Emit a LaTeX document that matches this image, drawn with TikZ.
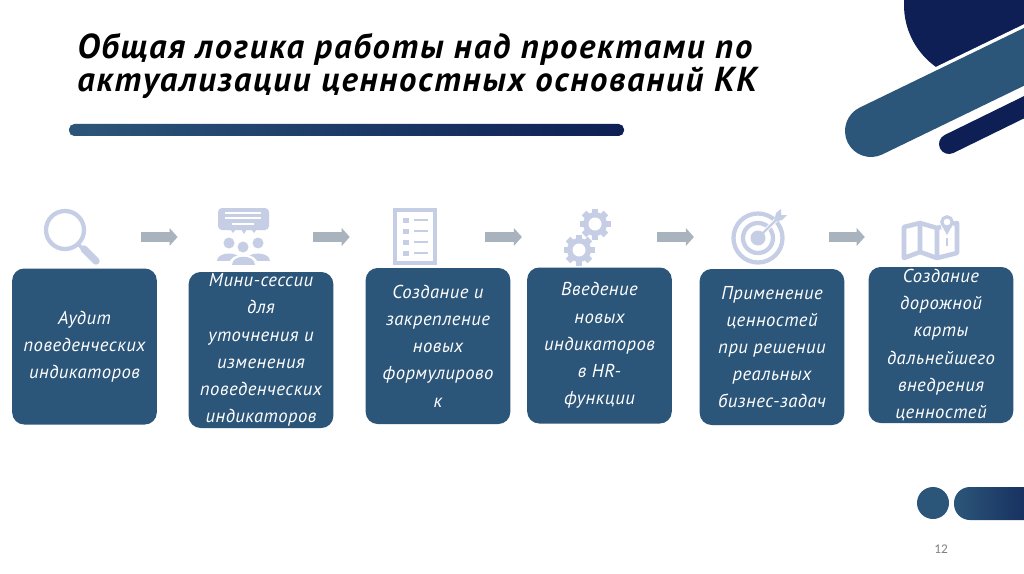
\documentclass[tikz,border=0pt]{standalone}
\usepackage{fontspec}
\setmainfont[LetterSpace=2.5]{PT Sans}
\newfontfamily\titlefont[LetterSpace=5.2]{PT Sans}
\newfontfamily\numfont{Carlito}
\usetikzlibrary{arrows.meta}

\definecolor{boxblue}{HTML}{2C5679}
\definecolor{navy}{HTML}{0D1F54}
\definecolor{iconblue}{HTML}{C6CEE6}
\definecolor{arrowgray}{HTML}{A9B3BD}

\tikzset{
  stepbox/.style={draw=none,fill=boxblue,rounded corners=9pt,inner sep=0pt,
    minimum width=108.5pt,minimum height=117pt,text=white,align=center,
    font=\itshape\fontsize{14}{20.4}\selectfont},
  iconspot/.style={inner sep=0pt,minimum height=10pt},
  flow/.style 2 args={arrowgray,line width=7.5pt,shorten <=#1*0.75pt,shorten >=#2*0.75pt,
    -{Triangle[length=6pt,width=13pt]}},
}

\newcommand{\gearicon}[2]{
  \foreach \a in {0,45,90,135}
    \fill[iconblue,shift={(#1,#2)},rotate=\a] (-3.2,-15.5) rectangle (3.2,15.5);
  \fill[iconblue] (#1,#2) circle (12);
  \fill[white] (#1,#2) circle (6.5);
}

\begin{document}
\begin{tikzpicture}[x=0.75pt,y=-0.75pt]

\path[use as bounding box,clip] (0,0) rectangle (1024,574);
\fill[white] (0,0) rectangle (1024,574);

% corner shapes
\fill[navy] (980,5) circle (76);
\draw[white,line width=44pt] (871,131) -- (1100,20);
\draw[boxblue,line width=39pt,line cap=round] (871,131) -- (1100,20);
\draw[navy,line width=15pt,line cap=round] (949,144) -- (1100,70);

% title
\node[anchor=north west,inner sep=0pt,align=left,
  font=\titlefont\bfseries\itshape\fontsize{26}{24.8}\selectfont] (title) at (77,33)
  {Общая логика работы над проектами по\\актуализации ценностных оснований КК};
\shade[left color=boxblue,right color=navy,rounded corners=4pt] (69,124) rectangle (624,136);

% boxes
\node[stepbox] (audit) at (84.5,346.5) {Аудит\\поведенческих\\индикаторов};
\node[stepbox] (sessions) at (261,350) {Мини-сессии\\для\\уточнения и\\изменения\\поведенческих\\индикаторов};
\node[stepbox] (wording) at (438,346) {Создание и\\закрепление\\новых\\формулирово\\к};
\node[stepbox] (hrfunc) at (599.5,345.5) {Введение\\новых\\индикаторов\\в HR-\\функции};
\node[stepbox] (practice) at (772,347) {Применение\\ценностей\\при решении\\реальных\\бизнес-задач};
\node[stepbox] (roadmap) at (941,345) {Создание\\дорожной\\карты\\дальнейшего\\внедрения\\ценностей};

% icon places
\node[iconspot,minimum width=43pt] (lens) at (71.5,237) {};
\node[iconspot,minimum width=40pt] (people) at (243.5,237) {};
\node[iconspot,minimum width=33pt] (sheet) at (415,237) {};
\node[iconspot,minimum width=35pt] (gears) at (586.5,237) {};
\node[iconspot,minimum width=41pt] (target) at (758.5,237) {};
\node[iconspot,minimum width=42pt] (map) at (930,237) {};

\draw[flow={41}{39}] (lens.east) -- (people.west);
\draw[flow={43}{43}] (people.east) -- (sheet.west);
\draw[flow={48}{41}] (sheet.east) -- (gears.west);
\draw[flow={47}{37}] (gears.east) -- (target.west);
\draw[flow={43}{37}] (target.east) -- (map.west);

% lens
\draw[iconblue,line width=3.2pt] (65,230) circle (19);
\draw[iconblue,line width=2.5pt] (78,244) -- (84,250);
\draw[iconblue,line width=5.5pt,line cap=round] (84,249) -- (96,261);

% people
\fill[iconblue,rounded corners=3pt] (218,208) rectangle (269,230);
\fill[iconblue] (230,229) -- (236,229) -- (233,233) -- cycle;
\fill[iconblue] (241,229) -- (247,229) -- (244,234) -- cycle;
\fill[iconblue] (251,229) -- (257,229) -- (254,233) -- cycle;
\draw[white,line width=0.9pt] (225,213) -- (261,213);
\draw[white,line width=0.9pt] (225,218) -- (261,218);
\draw[white,line width=0.9pt] (232,224) -- (254,224);
\fill[iconblue] (229,243) circle (5.5);
\fill[iconblue] (258,243) circle (5.5);
\fill[iconblue] (217,261) .. controls (217,251) and (241,251) .. (241,261) -- cycle;
\fill[iconblue] (246,261) .. controls (246,251) and (270,251) .. (270,261) -- cycle;
\fill[white] (243,247) circle (7.5);
\fill[iconblue] (243,247) circle (5.5);
\fill[white] (229,265) .. controls (229,251) and (258,251) .. (258,265) -- cycle;
\fill[iconblue] (232,265) .. controls (232,254) and (255,254) .. (255,265) -- cycle;

% sheet
\draw[iconblue,line width=3.2pt] (395,210) rectangle (435,263);
\foreach \ypos in {220,231,242,253} {
  \fill[iconblue] (403,\ypos-2.5) rectangle (409,\ypos+2.5);
  \draw[iconblue,line width=1.1pt] (414,\ypos) -- (428,\ypos);
}

% gears
\gearicon{595}{224}
\gearicon{579}{250}

% target
\draw[iconblue,line width=3.2pt] (758,238) circle (24.5);
\draw[iconblue,line width=3.2pt] (758,238) circle (15);
\fill[iconblue] (758,238) circle (7.5);
\draw[white,line width=3pt] (765,231) -- (790,206);
\draw[iconblue,line width=1.8pt] (758,238) -- (778,218);
\fill[iconblue] (774,222) -- (776,213) -- (781,209) -- (781,215) -- (787,215) -- (782,220) -- cycle;

% map
\draw[iconblue,line width=3.4pt,line join=round] (941,227) -- (937,228) -- (920,223) -- (904,227)
  -- (904,258) -- (920,252) -- (937,258) -- (957,253) -- (957,223) -- (953,224)
  (920,223) -- (920,252) (937,228) -- (937,258);
\draw[iconblue,line width=2.4pt] (947,222) circle (5.2);
\fill[iconblue] (942,226) -- (952,226) -- (947,235) -- cycle;
\draw[iconblue,line width=1.8pt] (947,238) -- (947,246);

% bottom right
\fill[boxblue] (933,503) circle (16);
\shade[left color=boxblue,right color=navy,rounded corners=12pt] (954,487) rectangle (1060,520);
\node[text=gray,font=\numfont\fontsize{10}{12}\selectfont,inner sep=0pt] (pagenum) at (941,549) {12};

\end{tikzpicture}
\end{document}
